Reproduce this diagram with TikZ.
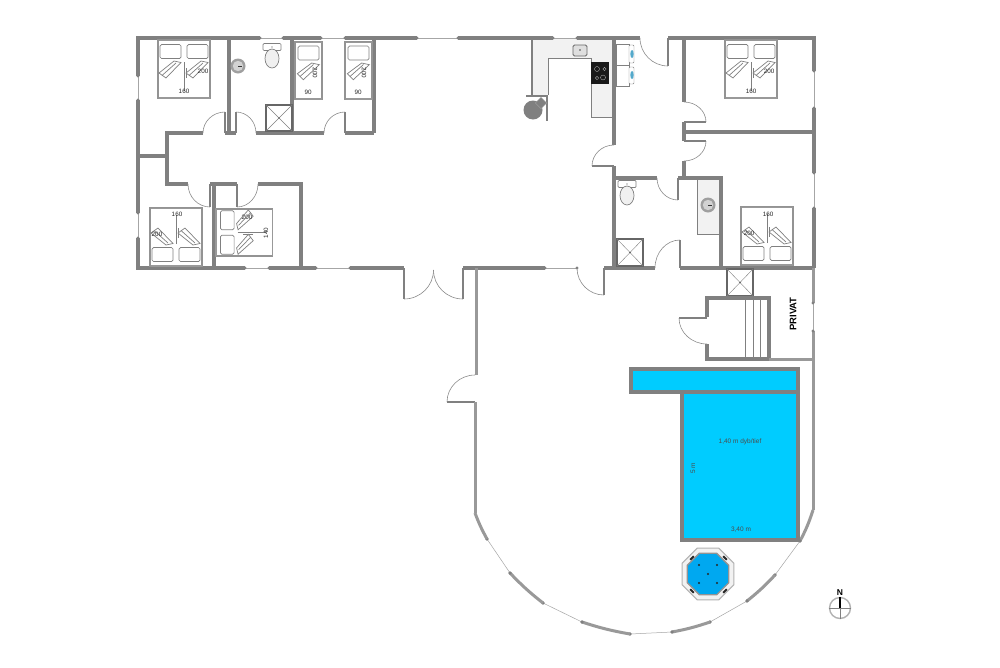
\documentclass[tikz,border=0pt]{standalone}
\usepackage{fontspec}
\setmainfont{Liberation Sans}
\usetikzlibrary{calc}
\definecolor{wallc}{gray}{0.5}
\definecolor{softwall}{gray}{0.6}
\definecolor{poolc}{HTML}{00CCFF}
\definecolor{spac}{HTML}{00A8F0}
\definecolor{counterc}{gray}{0.95}
\tikzset{
 wall/.style={draw=wallc,line width=3.4pt,line cap=butt,line join=miter},
 thinwall/.style={draw=softwall,line width=3pt},
 glass/.style={draw=gray!70,line width=0.5pt},
 leaf/.style={draw=wallc,line width=1.6pt},
 swing/.style={draw=gray!90,line width=0.6pt},
 fixture/.style={draw=gray,line width=0.7pt},
 bedframe/.style={draw=gray!85,line width=1.2pt,fill=white},
 bedhem/.style={draw=gray!80,line width=1.8pt},
 lbl/.style={font=\fontsize{6.3}{7}\selectfont,text=black!85,inner sep=0pt},
}
% hinge, leaf end, corner, arc end
\newcommand{\doorpiece}[4]{%
 \draw[leaf] (#1) -- (#2);
 \draw[swing] (#2) .. controls ($(#2)!0.552!(#3)$) and ($(#4)!0.552!(#3)$) .. (#4);}
\newcommand{\winpiece}[2]{%
 \draw[glass] (#1) -- (#2);
 \fill[wallc] (#1) circle (1.7pt) (#2) circle (1.7pt);}
\newcommand{\curvewin}[2]{%
 \draw[glass] (#1) -- (#2);
 \fill[wallc] (#1) circle (1.9pt) (#2) circle (1.9pt);}
\newcommand{\fold}[1]{%
 \draw[fixture,fill=white,shift={(#1,0)}] (1,33) -- (16,21) -- (23,22.5) -- (8,38) -- cycle;
 \draw[fixture,shift={(#1,0)}] (4,35.5) -- (18,23);}
\newcommand{\dbedshape}{%
 \draw[bedframe] (0,0) rectangle (52,58);
 \draw[bedhem] (0.5,0.4) -- (51.5,0.4);
 \draw[bedhem] (0.5,57.6) -- (51.5,57.6);
 \draw[fixture,rounded corners=1.5pt] (2,4.5) rectangle (23,18.5);
 \draw[fixture,rounded corners=1.5pt] (29,4.5) rectangle (50,18.5);
 \draw[fixture] (26,22) -- (26,51);
 \draw[fixture] (28,38) -- (28,28);
 \fold{0}\fold{27}}
\newcommand{\sbedshape}{%
 \draw[bedframe] (0,0) rectangle (27,57);
 \draw[bedhem] (0.5,0.4) -- (26.5,0.4);
 \draw[bedhem] (0.5,56.6) -- (26.5,56.6);
 \draw[fixture,rounded corners=1.5pt] (3,4) rectangle (24,18);
 \draw[fixture,fill=white] (2.3,31.7) -- (16.7,21) -- (24.3,22.7) -- (8.3,37.7) -- cycle;
 \draw[fixture] (5,34.5) -- (18.5,22.5);}
\newcommand{\toiletshape}[2]{%
 \draw[fixture,fill=white,rounded corners=1pt] (#1-9,#2-14.5) rectangle (#1+9,#2-7.5);
 \fill[black!70] (#1,#2-11) circle (0.7pt);
 \draw[fixture,fill=black!6] (#1,#2+0.5) ellipse (7pt and 9.5pt);}
\newcommand{\basinshape}[2]{%
 \fill[gray!75] (#1,#2) circle (7.5pt);
 \fill[gray!35] (#1,#2) circle (5.2pt);
 \draw[black!80,line width=0.6pt] (#1,#2) -- (#1+4,#2);}
\newcommand{\showershape}[4]{%
 \draw[draw=black!60,line width=1.4pt,fill=white] (#1,#2) rectangle (#3,#4);
 \draw[gray,line width=0.4pt] (#1,#2) -- (#3,#4) (#1,#4) -- (#3,#2);
 \fill[black!80] ($(#1,#2)!0.5!(#3,#4)$) circle (0.7pt);}
\begin{document}
\begin{tikzpicture}[x=1pt,y=-1pt]
\useasboundingbox (0,0) rectangle (1000,667);
\fill[white] (0,0) rectangle (1000,667);

% counters
\fill[counterc] (532,38) -- (613,38) -- (613,117) -- (591,117) -- (591,58) -- (548,58) -- (548,95) -- (532,95) -- cycle;
\draw[draw=gray,line width=0.6pt] (613,117) -- (591,117) -- (591,58) -- (548,58) -- (548,95);
\draw[draw=gray,fill=counterc,line width=0.6pt] (697,179) rectangle (719,234);

% outer walls
\draw[wall] (138,76) -- (138,38) -- (260,38);
\draw[wall] (283,38) -- (321,38);
\draw[wall] (345,38) -- (417,38);
\draw[wall] (458,38) -- (553,38);
\draw[wall] (577,38) -- (640,38);
\draw[wall] (668,38) -- (814,38) -- (814,71);
\draw[wall] (814,108) -- (814,173);
\draw[wall] (814,208) -- (814,268);
\draw[wall] (138,100) -- (138,213);
\draw[wall] (138,238) -- (138,268) -- (245,268);
\draw[wall] (269,268) -- (316,268);
\draw[wall] (350,268) -- (404,268);
\draw[wall] (463,268) -- (545,268);
\draw[wall] (604,268) -- (655,268);
\draw[wall] (680,268) -- (814,268);
\draw[thinwall] (813,268) -- (813,303);
\draw[thinwall] (813,331) -- (813,510);
% windows
\winpiece{138,76}{138,100}
\winpiece{138,213}{138,238}
\winpiece{260,38}{283,38}
\winpiece{321,38}{345,38}
\winpiece{417,38}{458,38}
\winpiece{553,38}{577,38}
\winpiece{814,71}{814,108}
\winpiece{814,173}{814,208}
\winpiece{245,268}{269,268}
\winpiece{316,268}{350,268}
\winpiece{545,268}{577,268}
\winpiece{813,303}{813,331}

% interior left wing
\draw[wall] (229,38) -- (229,133);
\draw[wall] (292,38) -- (292,133);
\draw[wall] (374,38) -- (374,133);
\draw[wall] (203,133) -- (167,133) -- (167,184) -- (188,184);
\draw[wall] (225,133) -- (236,133);
\draw[wall] (256,133) -- (324,133);
\draw[wall] (345,133) -- (374,133);
\draw[wall] (138,156) -- (167,156);
\draw[wall] (210,184) -- (237,184);
\draw[wall] (258,184) -- (301,184) -- (301,268);
\draw[wall] (214,184) -- (214,268);
\doorpiece{225,133}{225,112}{203,112}{203,133}
\doorpiece{236,133}{236,112}{256,112}{256,133}
\doorpiece{345,133}{345,112}{324,112}{324,133}
\doorpiece{210,184}{210,207}{188,207}{188,184}
\doorpiece{237,184}{237,207}{258,207}{258,184}

% french door
\doorpiece{404,268}{404,299}{433.5,299}{433.5,270}
\doorpiece{463,268}{463,299}{433.5,299}{433.5,270}
\doorpiece{604,268}{604,295}{577,295}{577,268}

% kitchen walls
\draw[wall,line width=2.4pt] (532,38) -- (532,96);
\draw[wall,line width=2.4pt] (526,96) -- (548,96);
\draw[wall,line width=2.4pt] (547,96) -- (547,121);

% middle walls
\draw[wall] (614,38) -- (614,145);
\draw[wall] (614,166) -- (614,268);
\doorpiece{614,166}{592,166}{592,145}{614,145}
\draw[wall] (684,38) -- (684,102);
\draw[wall] (684,122) -- (684,141);
\draw[wall] (684,161) -- (684,178);
\draw[wall] (684,132) -- (814,132);
\doorpiece{684,122}{706,122}{706,102}{684,102}
\doorpiece{684,141}{706,141}{706,161}{684,161}
\doorpiece{668,38}{668,66}{640,66}{640,38}
\draw[wall] (614,178) -- (657,178);
\draw[wall] (678,178) -- (721,178) -- (721,268);
\doorpiece{678,178}{678,200}{657,200}{657,178}
\doorpiece{680,268}{680,240}{655,240}{655,268}

% terrace wall
\draw[thinwall] (476,268) -- (476,375);
\doorpiece{475,402}{447,402}{447,375}{475,375}
\draw[thinwall] (475,402) -- (475,513);
\draw[thinwall] (813,510) to[bend left=5] (800,541);
\curvewin{800,541}{775,575}
\draw[thinwall] (775,575) to[bend left=4] (747,601);
\curvewin{747,601}{710,622}
\draw[thinwall] (710,622) to[bend left=4] (672,632);
\curvewin{672,632}{630,634}
\draw[thinwall] (630,634) to[bend left=4] (582,622);
\curvewin{582,622}{543,603}
\draw[thinwall] (543,603) to[bend left=4] (510,573);
\curvewin{510,573}{487,539}
\draw[thinwall] (487,539) to[bend left=4] (475,513);

% beds
\begin{scope}[shift={(158,40)}]\dbedshape\end{scope}
\begin{scope}[shift={(725,40)}]\dbedshape\end{scope}
\begin{scope}[shift={(150,266)},yscale=-1]\dbedshape\end{scope}
\begin{scope}[shift={(741,265)},yscale=-1]\dbedshape\end{scope}
\begin{scope}[shift={(216,209)},cm={0,-1,-1,0,(0,0)},xscale=0.905,yscale=0.98]\dbedshape\end{scope}
\begin{scope}[shift={(295,42)}]\sbedshape\end{scope}
\begin{scope}[shift={(345,42)}]\sbedshape\end{scope}
\node[lbl] (t1) at (184,91) {160};
\node[lbl] (t2) at (203,71) {200};
\node[lbl] (t3) at (751,91) {160};
\node[lbl] (t4) at (769,71) {200};
\node[lbl] (t5) at (177,214) {160};
\node[lbl] (t6) at (157,234) {200};
\node[lbl] (t7) at (768,214) {160};
\node[lbl] (t8) at (749,233) {200};
\node[lbl] (t9) at (247,217) {200};
\node[lbl,rotate=90] (t10) at (266,233) {140};
\node[lbl,rotate=-90] (t11) at (315,73) {200};
\node[lbl] (t12) at (308,92) {90};
\node[lbl,rotate=-90] (t13) at (364,73) {200};
\node[lbl] (t14) at (358,92) {90};

% bath fixtures
\toiletshape{272}{58}
\toiletshape{627}{195}
\basinshape{238}{66}
\basinshape{708}{205}
\showershape{266}{105}{292}{131}
\showershape{617}{239}{643}{266}
\showershape{727}{269}{753}{296}

% kitchen fixtures
\draw[black!60,fill=gray!25,line width=0.9pt,rounded corners=1.5pt] (573,45) rectangle (587,56);
\fill[black!70] (580,50) circle (0.8pt);
\fill[black!90] (591,62) rectangle (609,84);
\draw[gray!50,line width=0.3pt] (597,69) circle (2.5pt) (604.5,69) circle (1.7pt) (597,78) circle (1.7pt) (603,77.5) circle (2.5pt);
\fill[wallc] (533,110) circle (9.5pt);
\draw[fill=wallc,draw=gray!70,line width=0.4pt,rotate around={45:(541,103)}] (537,99) rectangle (545,107);

% stools
\draw[fixture,line width=0.4pt,fill=white] (616,44) rectangle (629,65);
\draw[fixture,line width=0.4pt,fill=white] (616,65) rectangle (629,86);
\draw[fixture,line width=0.4pt,rounded corners=1pt,fill=white] (629,45) rectangle (634,63);
\draw[fixture,line width=0.4pt,rounded corners=1pt,fill=white] (629,67) rectangle (634,84);
\fill[cyan!60!gray] (632,54) ellipse (1.7pt and 4pt) (632,75) ellipse (1.7pt and 4pt);

% privat room
\draw[wall] (707,317) -- (707,298) -- (769,298) -- (769,359) -- (707,359) -- (707,344);
\draw[thinwall] (769,359) -- (813,359);
\doorpiece{707,318}{679,318}{679,344}{707,344}
\draw[gray,line width=0.6pt] (745,299) -- (745,358);
\draw[gray,line width=0.9pt] (753,299) -- (753,358);
\draw[gray,line width=0.6pt] (760,299) -- (760,358);
\node[font=\bfseries\fontsize{9.5}{10}\selectfont,rotate=90,inner sep=0pt] (priv) at (793,314) {PRIVAT};

% pool
\draw[draw=wallc,line width=3.4pt,fill=poolc] (631,369) rectangle (798,392);
\draw[draw=wallc,line width=3.4pt,fill=poolc] (682,392) rectangle (798,540);
\node[lbl,font=\fontsize{6.5}{7}\selectfont,text=black!70] (p1) at (740,442) {1,40 m dyb/tief};
\node[lbl,font=\fontsize{6.5}{7}\selectfont,text=black!70,rotate=90] (p2) at (693,468) {5 m};
\node[lbl,font=\fontsize{6.5}{7}\selectfont,text=black!70] (p3) at (741,530) {3,40 m};

% spa
\newcommand{\octa}[1]{(708+#1*0.924,574+#1*0.383) -- (708+#1*0.383,574+#1*0.924) -- (708-#1*0.383,574+#1*0.924) -- (708-#1*0.924,574+#1*0.383) -- (708-#1*0.924,574-#1*0.383) -- (708-#1*0.383,574-#1*0.924) -- (708+#1*0.383,574-#1*0.924) -- (708+#1*0.924,574-#1*0.383) -- cycle}
\draw[gray!60,line width=1pt,fill=gray!10] \octa{28};
\draw[gray!85,line width=1.3pt,fill=spac] \octa{22.5};
\foreach \a/\b in {699/565,717/565,699/583,717/583,708/574}{\fill[black!85] (\a,\b) circle (1.1pt);}
\foreach \a/\b/\r in {692/558/45,725/558/-45,692/591/-45,725/591/45}{\fill[black!85,rotate around={\r:(\a,\b)}] (\a-2.5,\b-1) rectangle (\a+2.5,\b+1);}

% compass
\draw[gray!60,line width=1.4pt] (840,608) circle (10.5pt);
\draw[gray,line width=0.6pt] (829,608) -- (851,608) (840,608) -- (840,619);
\draw[black,line width=1.8pt] (840,597) -- (840,608);
\node[font=\bfseries\fontsize{8.5}{9}\selectfont,inner sep=0pt] (north) at (840,593) {N};
\end{tikzpicture}
\end{document}
